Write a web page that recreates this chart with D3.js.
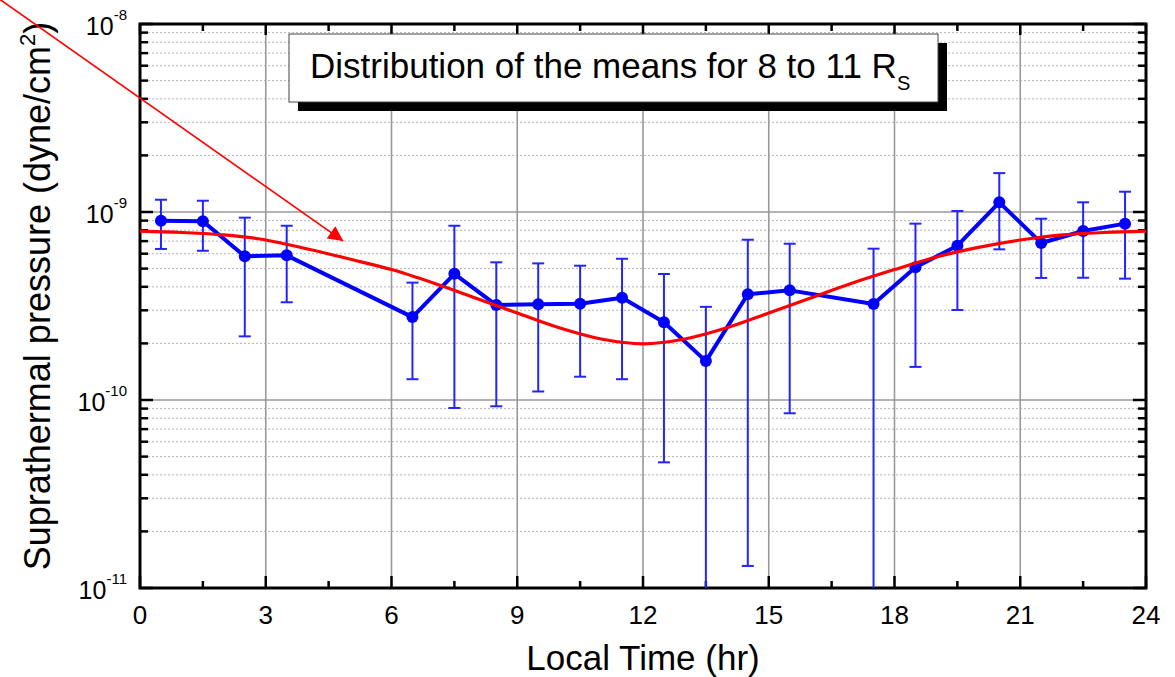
<!DOCTYPE html>
<html>
<head>
<meta charset="utf-8">
<script src="https://cdnjs.cloudflare.com/ajax/libs/d3/7.8.5/d3.min.js"></script>
<style>
  body { margin: 0; background: #fff; }
  svg { display: block; font-family: "Liberation Sans", Arial, sans-serif; }
</style>
</head>
<body>
<svg id="chart" width="1175" height="677"></svg>
<script>
// local time bins (hr) and mean suprathermal pressure (dyne/cm^2)
const localTime = [0.5, 1.5, 2.5, 3.5, 6.5, 7.5, 8.5, 9.5, 10.5, 11.5, 12.5, 13.5, 14.5, 15.5, 17.5, 18.5, 19.5, 20.5, 21.5, 22.5, 23.5];
const meanPressure = [8.99e-10, 8.92e-10, 5.81e-10, 5.88e-10, 2.76e-10, 4.69e-10, 3.20e-10, 3.23e-10, 3.25e-10, 3.50e-10, 2.59e-10, 1.61e-10, 3.65e-10, 3.83e-10, 3.24e-10, 5.08e-10, 6.62e-10, 1.126e-9, 6.84e-10, 7.92e-10, 8.67e-10];
const errHigh = [1.162e-9, 1.148e-9, 9.33e-10, 8.45e-10, 4.21e-10, 8.45e-10, 5.40e-10, 5.33e-10, 5.18e-10, 5.64e-10, 4.68e-10, 3.13e-10, 7.12e-10, 6.78e-10, 6.38e-10, 8.67e-10, 1.012e-9, 1.61e-9, 9.21e-10, 1.126e-9, 1.282e-9];
// 0 = lower bar runs off the bottom of the axis
const errLow = [6.36e-10, 6.22e-10, 2.18e-10, 3.31e-10, 1.29e-10, 9.07e-11, 9.26e-11, 1.11e-10, 1.33e-10, 1.29e-10, 4.66e-11, 0, 1.31e-11, 8.50e-11, 0, 1.50e-10, 3.01e-10, 6.33e-10, 4.46e-10, 4.47e-10, 4.42e-10];

const fitTime = [0, 1, 2, 3, 4, 5, 6, 7, 8, 9, 10, 11, 12, 13, 14, 15, 16, 17, 18, 19, 20, 21, 22, 23, 24];
const fitPressure = [7.92e-10, 7.78e-10, 7.55e-10, 7.10e-10, 6.36e-10, 5.62e-10, 4.94e-10, 4.19e-10, 3.49e-10, 2.90e-10, 2.42e-10, 2.11e-10, 1.99e-10, 2.11e-10, 2.42e-10, 2.90e-10, 3.49e-10, 4.19e-10, 4.94e-10, 5.76e-10, 6.48e-10, 7.10e-10, 7.55e-10, 7.78e-10, 7.92e-10];

// annotation arrow (data units)
const arrowFrom = [-3.4, 1.38e-8];
const arrowTo = [4.85, 7.0e-10];

const xTicks = [0, 3, 6, 9, 12, 15, 18, 21, 24];
const yDecades = [-11, -10, -9, -8];
const titleText = "Distribution of the means for 8 to 11 R";
const titleSub = "S";

const margin = { top: 24, right: 29, bottom: 89, left: 140 };
const W = 1175, H = 677;
const width = W - margin.left - margin.right;
const height = H - margin.top - margin.bottom;

const svg = d3.select("#chart");
const g = svg.append("g").attr("transform", `translate(${margin.left},${margin.top})`);

const x = d3.scaleLinear().domain([0, 24]).range([0, width]);
const y = d3.scaleLog().domain([1e-11, 1e-8]).range([height, 0]);

// minor values inside each decade
const minorY = [];
yDecades.slice(0, -1).forEach(e => {
    for (let k = 2; k <= 9; k++) minorY.push(k * Math.pow(10, e));
});
const majorY = yDecades.map(e => Math.pow(10, e));
const minorX = d3.range(1.5, 24, 3);

// grid
g.append("g").selectAll("line").data(minorY).join("line")
    .attr("x1", 0).attr("x2", width)
    .attr("y1", d => y(d)).attr("y2", d => y(d))
    .attr("stroke", "#b4b4b4").attr("stroke-width", 1).attr("stroke-dasharray", "2,2");
g.append("g").selectAll("line").data(majorY.slice(1, -1)).join("line")
    .attr("x1", 0).attr("x2", width)
    .attr("y1", d => y(d)).attr("y2", d => y(d))
    .attr("stroke", "#999").attr("stroke-width", 1.6);
g.append("g").selectAll("line").data(xTicks.slice(1, -1)).join("line")
    .attr("x1", d => x(d)).attr("x2", d => x(d))
    .attr("y1", 0).attr("y2", height)
    .attr("stroke", "#999").attr("stroke-width", 1.6);

// ticks (inward on all four sides)
function ticksX(vals, len, yPos, dir) {
    g.append("g").selectAll("line").data(vals).join("line")
        .attr("x1", d => x(d)).attr("x2", d => x(d))
        .attr("y1", yPos).attr("y2", yPos + dir * len)
        .attr("stroke", "#000").attr("stroke-width", 2.5);
}
function ticksY(vals, len, xPos, dir) {
    g.append("g").selectAll("line").data(vals).join("line")
        .attr("y1", d => y(d)).attr("y2", d => y(d))
        .attr("x1", xPos).attr("x2", xPos + dir * len)
        .attr("stroke", "#000").attr("stroke-width", 2.5);
}
ticksX(xTicks, 12, height, -1);
ticksX(minorX, 7, height, -1);
ticksX(xTicks, 11, 0, 1);
ticksX(minorX, 7, 0, 1);
ticksY(majorY, 13, 0, 1);
ticksY(minorY, 8, 0, 1);
ticksY(majorY, 13, width, -1);
ticksY(minorY, 8, width, -1);

// frame
g.append("rect").attr("width", width).attr("height", height)
    .attr("fill", "none").attr("stroke", "#000").attr("stroke-width", 3);

// x tick labels
g.append("g").selectAll("text").data(xTicks).join("text")
    .attr("x", d => x(d)).attr("y", height + 36)
    .attr("text-anchor", "middle").attr("font-size", 26)
    .text(d => d);

// y tick labels 10^n
const yl = g.append("g").selectAll("text").data(yDecades).join("text")
    .attr("x", -13).attr("y", e => y(Math.pow(10, e)) + 11)
    .attr("text-anchor", "end").attr("font-size", 25);
yl.append("tspan").text("10");
yl.append("tspan").attr("font-size", 15).attr("dy", -15).text(e => e);

// axis titles
g.append("text")
    .attr("x", width / 2).attr("y", height + 82)
    .attr("text-anchor", "middle").attr("font-size", 35)
    .text("Local Time (hr)");
const ylab = g.append("text")
    .attr("transform", `translate(${-90},${height / 2 - 10}) rotate(-90)`)
    .attr("text-anchor", "middle").attr("font-size", 36);
ylab.append("tspan").text("Suprathermal pressure (dyne/cm");
ylab.append("tspan").attr("font-size", 22).attr("dy", -15).text("2");
ylab.append("tspan").attr("dy", 15).text(")");

// error bars
const blue = "#0000ff";
const eb = g.append("g").attr("stroke", "#2424ff").attr("stroke-width", 2);
localTime.forEach((t, i) => {
    const cx = x(t);
    const yTop = y(errHigh[i]);
    const yBot = errLow[i] > 0 ? y(errLow[i]) : height;
    eb.append("line").attr("x1", cx).attr("x2", cx).attr("y1", yTop).attr("y2", yBot);
    eb.append("line").attr("x1", cx - 6).attr("x2", cx + 6).attr("y1", yTop).attr("y2", yTop);
    if (errLow[i] > 0) {
        eb.append("line").attr("x1", cx - 6).attr("x2", cx + 6).attr("y1", yBot).attr("y2", yBot);
    }
});

// blue mean line and markers
const line = d3.line().x((d, i) => x(localTime[i])).y(d => y(d));
g.append("path").datum(meanPressure)
    .attr("d", line).attr("fill", "none")
    .attr("stroke", blue).attr("stroke-width", 4).attr("stroke-linejoin", "round");
g.append("g").selectAll("circle").data(meanPressure).join("circle")
    .attr("cx", (d, i) => x(localTime[i])).attr("cy", d => y(d))
    .attr("r", 6).attr("fill", blue);

// red fit
const fitLine = d3.line().x((d, i) => x(fitTime[i])).y(d => y(d)).curve(d3.curveMonotoneX);
g.append("path").datum(fitPressure)
    .attr("d", fitLine).attr("fill", "none")
    .attr("stroke", "#ff0000").attr("stroke-width", 3.2);

// arrow
svg.append("defs").append("marker")
    .attr("id", "head").attr("viewBox", "0 0 10 10")
    .attr("refX", 10).attr("refY", 5)
    .attr("markerUnits", "userSpaceOnUse")
    .attr("markerWidth", 17).attr("markerHeight", 15)
    .attr("orient", "auto")
    .append("path").attr("d", "M0,0 L10,5 L0,10 Z").attr("fill", "#ff0000");
g.append("line")
    .attr("x1", x(arrowFrom[0])).attr("y1", y(arrowFrom[1]))
    .attr("x2", x(arrowTo[0])).attr("y2", y(arrowTo[1]))
    .attr("stroke", "#ff0000").attr("stroke-width", 1.6)
    .attr("marker-end", "url(#head)");

// title box with drop shadow
const box = { x: 289, y: 34, w: 649, h: 68 };
svg.append("rect").attr("x", box.x + 9).attr("y", box.y + 9)
    .attr("width", box.w).attr("height", box.h).attr("fill", "#000");
svg.append("rect").attr("x", box.x).attr("y", box.y)
    .attr("width", box.w).attr("height", box.h)
    .attr("fill", "#fff").attr("stroke", "#444").attr("stroke-width", 1);
const tt = svg.append("text").attr("x", 310).attr("y", 78).attr("font-size", 35);
tt.append("tspan").text(titleText);
tt.append("tspan").attr("font-size", 20).attr("dy", 12).text(titleSub);
</script>
</body>
</html>
